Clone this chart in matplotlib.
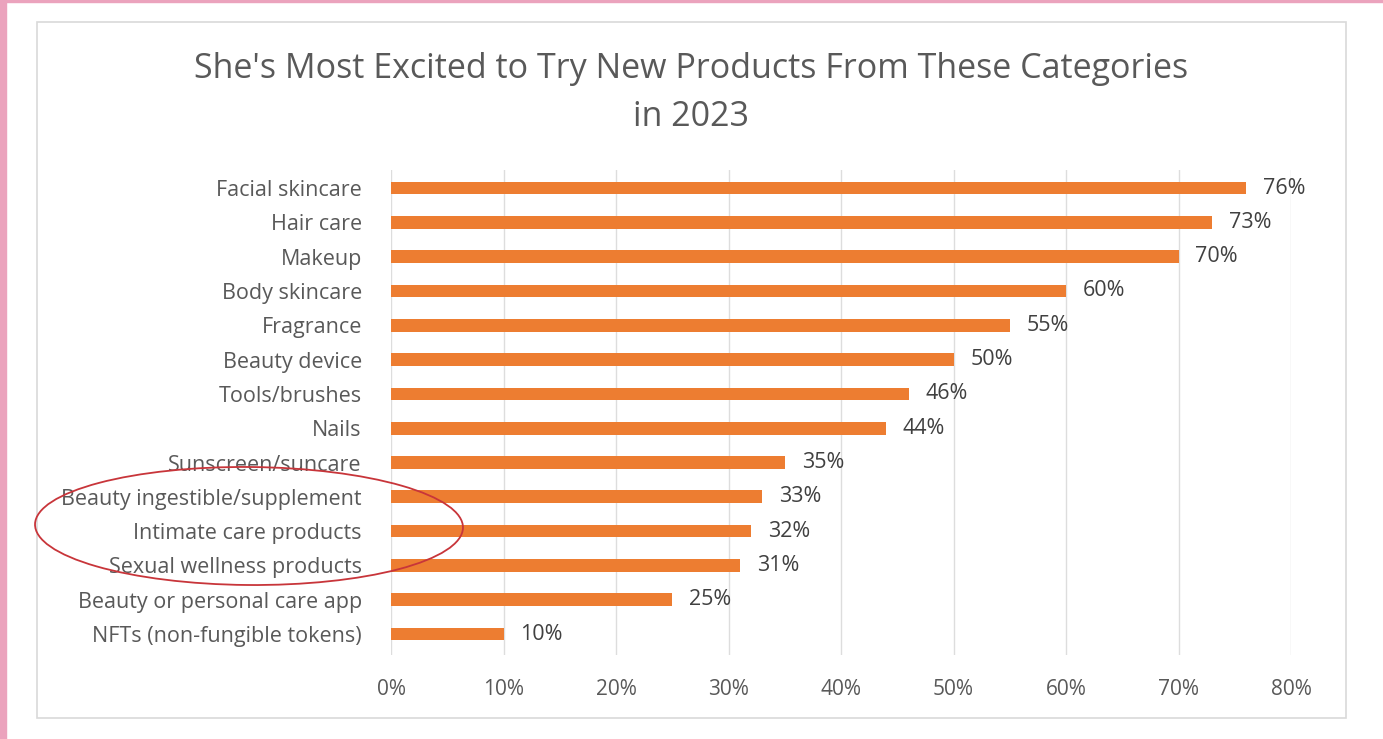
import matplotlib.pyplot as plt
from matplotlib.patches import Rectangle, Ellipse
from matplotlib.ticker import PercentFormatter

categories = ['Facial skincare', 'Hair care', 'Makeup', 'Body skincare', 'Fragrance',
              'Beauty device', 'Tools/brushes', 'Nails', 'Sunscreen/suncare',
              'Beauty ingestible/supplement', 'Intimate care products',
              'Sexual wellness products', 'Beauty or personal care app',
              'NFTs (non-fungible tokens)']
values = [76, 73, 70, 60, 55, 50, 46, 44, 35, 33, 32, 31, 25, 10]
x_ticks = [0, 10, 20, 30, 40, 50, 60, 70, 80]

W, H = 1383, 739
plt.rcParams['font.family'] = ['Open Sans', 'DejaVu Sans']
fig = plt.figure(figsize=(W / 100, H / 100), dpi=100)
fig.patch.set_facecolor('white')

# pink page edge and chart frame
fig.patches.append(Rectangle((0, 0), 6 / W, 1, transform=fig.transFigure,
                             color='#EBA3BD', zorder=0))
fig.patches.append(Rectangle((0, 1 - 2 / H), 1, 2 / H, transform=fig.transFigure,
                             color='#EBA3BD', zorder=0))
fig.patches.append(Rectangle((37 / W, 1 - 718 / H), (1346 - 37) / W, (718 - 22) / H,
                             transform=fig.transFigure, fill=False,
                             edgecolor='#D9D9D9', linewidth=1.2, zorder=1))

ax = fig.add_axes([391 / W, 1 - 655 / H, 900 / W, 485 / H])
y = list(range(len(categories)))
ax.barh(y, values, height=0.37, color='#ED7D31', zorder=3)
for yi, v in zip(y, values):
    ax.text(v + 1.5, yi, f'{v}%', va='center', ha='left', fontsize=15.5,
            color='#404040')

ax.set_xlim(0, 80)
ax.set_ylim(13.61, -0.525)
ax.set_xticks(x_ticks)
ax.xaxis.set_major_formatter(PercentFormatter(decimals=0))
ax.set_yticks(y)
ax.set_yticklabels(categories)
ax.tick_params(axis='x', length=0, pad=17, labelsize=15, labelcolor='#595959')
ax.tick_params(axis='y', length=0, pad=21, labelsize=15.5, labelcolor='#595959')
ax.grid(axis='x', color='#DDDDDD', linewidth=1.0, zorder=0)
for s in ax.spines.values():
    s.set_visible(False)

fig.text(691 / W, 1 - 93 / H, "She's Most Excited to Try New Products From These Categories\nin 2023",
         ha='center', va='center', fontsize=24.5, color='#595959', linespacing=1.57)

# red circle around some labels
fig.patches.append(Ellipse((249 / W, 1 - 526 / H), 428 / W, 118 / H,
                           transform=fig.transFigure, fill=False,
                           edgecolor='#C8353A', linewidth=1.3, angle=-1, zorder=5))

fig.savefig('out.png', dpi=100)
